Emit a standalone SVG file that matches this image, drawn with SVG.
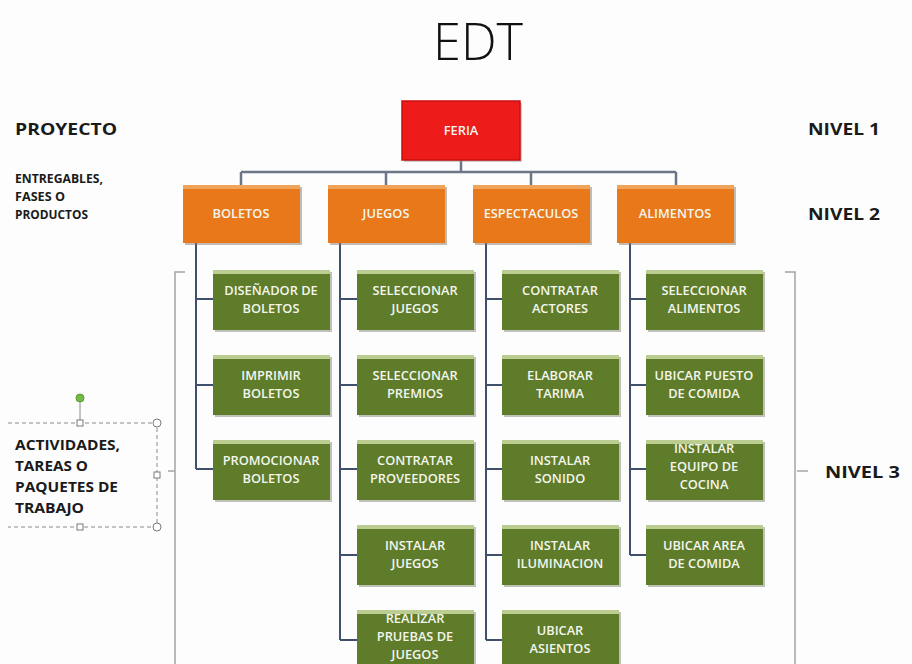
<svg xmlns="http://www.w3.org/2000/svg" width="912" height="664" viewBox="0 0 912 664">
  <defs>
    <style>
      .title { font-family: "Open Sans", "Liberation Sans", sans-serif; font-weight: 300; font-size: 52px; fill: #111; }
      .side { font-family: "Open Sans", "Liberation Sans", sans-serif; font-weight: 700; fill: #1a1a1a; }
      .lbl { font-family: "Open Sans", "Liberation Sans", sans-serif; font-weight: 600; font-size: 12.8px; fill: #f4f6ee; text-anchor: middle; }
      .link { stroke: #3f4f6c; stroke-width: 2; fill: none; }
      .top-link { stroke: #6b7687; stroke-width: 2.5; fill: none; }
      .brace { stroke: #a4a4a4; stroke-width: 1.5; fill: none; }
      .task-body { fill: #5e7c29; }
      .task-band { fill: #bccd92; }
      .task-shade { fill: #8a8f80; opacity: 0.55; }
      .phase-body { fill: #e8781a; }
      .phase-band { fill: #f0a45a; }
      .phase-shade { fill: #8a7a6a; opacity: 0.5; }
      .sel { stroke: #8a8a8a; stroke-width: 1; fill: none; stroke-dasharray: 4 3; }
      .handle { stroke: #7a7a7a; stroke-width: 1; fill: #ffffff; }
    </style>
    <!-- activity box: shadow, body, light top band -->
    <g id="taskbox">
      <rect class="task-shade" x="2" y="2" width="117" height="60"/>
      <rect class="task-body" x="0" y="0" width="117" height="60"/>
      <rect class="task-band" x="0" y="0" width="117" height="4"/>
    </g>
    <g id="phasebox">
      <rect class="phase-shade" x="2" y="2" width="117" height="58"/>
      <rect class="phase-body" x="0" y="0" width="117" height="58"/>
      <rect class="phase-band" x="0" y="0" width="117" height="4"/>
    </g>
  </defs>

  <rect width="912" height="664" fill="#fdfdfd"/>

  <text class="title" x="478" y="60" text-anchor="middle" textLength="90" lengthAdjust="spacingAndGlyphs">EDT</text>

  <!-- side captions -->
  <text class="side" x="15" y="135" font-size="16" textLength="102" lengthAdjust="spacingAndGlyphs">PROYECTO</text>
  <text class="side" x="15" y="183" font-size="11.5" textLength="88" lengthAdjust="spacingAndGlyphs">ENTREGABLES,</text>
  <text class="side" x="15" y="201" font-size="11.5" textLength="50" lengthAdjust="spacingAndGlyphs">FASES O</text>
  <text class="side" x="15" y="219" font-size="11.5" textLength="73" lengthAdjust="spacingAndGlyphs">PRODUCTOS</text>
  <text class="side" x="808" y="135" font-size="16" textLength="72" lengthAdjust="spacingAndGlyphs">NIVEL 1</text>
  <text class="side" x="808" y="220" font-size="16" textLength="72" lengthAdjust="spacingAndGlyphs">NIVEL 2</text>
  <text class="side" x="825" y="478" font-size="16" textLength="75" lengthAdjust="spacingAndGlyphs">NIVEL 3</text>

  <!-- selected text box with its handles -->
  <g id="activity-caption">
    <path class="sel" d="M8 423 H157 V527 H8"/>
    <line x1="80" y1="402" x2="80" y2="423" stroke="#8a8a8a" stroke-width="1"/>
    <circle cx="80" cy="398" r="4" fill="#77bb44" stroke="#5a9a30" stroke-width="1"/>
    <circle class="handle" cx="157" cy="423" r="4"/>
    <circle class="handle" cx="157" cy="527" r="4"/>
    <rect class="handle" x="77" y="420" width="6" height="6"/>
    <rect class="handle" x="77" y="524" width="6" height="6"/>
    <rect class="handle" x="154" y="472" width="6" height="6"/>
    <text class="side" x="15" y="450" font-size="13.5" textLength="105" lengthAdjust="spacingAndGlyphs">ACTIVIDADES,</text>
    <text class="side" x="15" y="471" font-size="13.5" textLength="73" lengthAdjust="spacingAndGlyphs">TAREAS O</text>
    <text class="side" x="15" y="492" font-size="13.5" textLength="103" lengthAdjust="spacingAndGlyphs">PAQUETES DE</text>
    <text class="side" x="15" y="513" font-size="13.5" textLength="69" lengthAdjust="spacingAndGlyphs">TRABAJO</text>
  </g>

  <!-- level brackets -->
  <g id="brackets">
    <path class="brace" d="M185 272 H175 V664"/>
    <path class="brace" d="M168 471 H175"/>
    <path class="brace" d="M785 272 H795 V664"/>
    <path class="brace" d="M797 471 H808"/>
  </g>

  <!-- connectors -->
  <g id="connectors">
    <path class="top-link" d="M461 160 V172 M241 172 H676 M241 172 V185 M386 172 V185 M531 172 V185 M676 172 V185"/>
    <path class="link" d="M196 243 V469 M196 299 H213 M196 385 H213 M196 469 H213"/>
    <path class="link" d="M340 243 V640 M340 299 H357 M340 385 H357 M340 469 H357 M340 555 H357 M340 640 H357"/>
    <path class="link" d="M486 243 V640 M486 299 H503 M486 385 H503 M486 469 H503 M486 555 H503 M486 640 H503"/>
    <path class="link" d="M630 243 V555 M630 299 H647 M630 385 H647 M630 469 H647 M630 555 H647"/>
  </g>

  <!-- level 1 -->
  <g id="feria">
    <rect x="404" y="103" width="118" height="59" fill="#9a9a9a" opacity="0.5"/>
    <rect x="402" y="101" width="118" height="59" fill="#ee1b1b" stroke="#c80f0f" stroke-width="1.5"/>
    <text class="lbl" x="461" y="135">FERIA</text>
  </g>

  <!-- level 2 -->
  <g id="boletos"><use href="#phasebox" x="183" y="185"/><text class="lbl" x="241" y="218">BOLETOS</text></g>
  <g id="juegos"><use href="#phasebox" x="328" y="185"/><text class="lbl" x="386" y="218">JUEGOS</text></g>
  <g id="espectaculos"><use href="#phasebox" x="473" y="185"/><text class="lbl" x="531" y="218">ESPECTACULOS</text></g>
  <g id="alimentos"><use href="#phasebox" x="617" y="185"/><text class="lbl" x="675" y="218">ALIMENTOS</text></g>

  <!-- level 3: BOLETOS -->
  <g id="disenador"><use href="#taskbox" x="213" y="270"/><text class="lbl" x="271" y="295">DISEÑADOR DE</text><text class="lbl" x="271" y="313">BOLETOS</text></g>
  <g id="imprimir"><use href="#taskbox" x="213" y="355"/><text class="lbl" x="271" y="380">IMPRIMIR</text><text class="lbl" x="271" y="398">BOLETOS</text></g>
  <g id="promocionar"><use href="#taskbox" x="213" y="440"/><text class="lbl" x="271" y="465">PROMOCIONAR</text><text class="lbl" x="271" y="483">BOLETOS</text></g>

  <!-- level 3: JUEGOS -->
  <g id="sel-juegos"><use href="#taskbox" x="357" y="270"/><text class="lbl" x="415" y="295">SELECCIONAR</text><text class="lbl" x="415" y="313">JUEGOS</text></g>
  <g id="sel-premios"><use href="#taskbox" x="357" y="355"/><text class="lbl" x="415" y="380">SELECCIONAR</text><text class="lbl" x="415" y="398">PREMIOS</text></g>
  <g id="contratar-prov"><use href="#taskbox" x="357" y="440"/><text class="lbl" x="415" y="465">CONTRATAR</text><text class="lbl" x="415" y="483">PROVEEDORES</text></g>
  <g id="instalar-juegos"><use href="#taskbox" x="357" y="525"/><text class="lbl" x="415" y="550">INSTALAR</text><text class="lbl" x="415" y="568">JUEGOS</text></g>
  <g id="realizar-pruebas"><use href="#taskbox" x="357" y="610"/><text class="lbl" x="415" y="623">REALIZAR</text><text class="lbl" x="415" y="641">PRUEBAS DE</text><text class="lbl" x="415" y="659">JUEGOS</text></g>

  <!-- level 3: ESPECTACULOS -->
  <g id="contratar-actores"><use href="#taskbox" x="502" y="270"/><text class="lbl" x="560" y="295">CONTRATAR</text><text class="lbl" x="560" y="313">ACTORES</text></g>
  <g id="elaborar-tarima"><use href="#taskbox" x="502" y="355"/><text class="lbl" x="560" y="380">ELABORAR</text><text class="lbl" x="560" y="398">TARIMA</text></g>
  <g id="instalar-sonido"><use href="#taskbox" x="502" y="440"/><text class="lbl" x="560" y="465">INSTALAR</text><text class="lbl" x="560" y="483">SONIDO</text></g>
  <g id="instalar-iluminacion"><use href="#taskbox" x="502" y="525"/><text class="lbl" x="560" y="550">INSTALAR</text><text class="lbl" x="560" y="568">ILUMINACION</text></g>
  <g id="ubicar-asientos"><use href="#taskbox" x="502" y="610"/><text class="lbl" x="560" y="635">UBICAR</text><text class="lbl" x="560" y="653">ASIENTOS</text></g>

  <!-- level 3: ALIMENTOS -->
  <g id="sel-alimentos"><use href="#taskbox" x="646" y="270"/><text class="lbl" x="704" y="295">SELECCIONAR</text><text class="lbl" x="704" y="313">ALIMENTOS</text></g>
  <g id="ubicar-puesto"><use href="#taskbox" x="646" y="355"/><text class="lbl" x="704" y="380">UBICAR PUESTO</text><text class="lbl" x="704" y="398">DE COMIDA</text></g>
  <g id="instalar-cocina"><use href="#taskbox" x="646" y="440"/><text class="lbl" x="704" y="453">INSTALAR</text><text class="lbl" x="704" y="471">EQUIPO DE</text><text class="lbl" x="704" y="489">COCINA</text></g>
  <g id="ubicar-area"><use href="#taskbox" x="646" y="525"/><text class="lbl" x="704" y="550">UBICAR AREA</text><text class="lbl" x="704" y="568">DE COMIDA</text></g>
</svg>
